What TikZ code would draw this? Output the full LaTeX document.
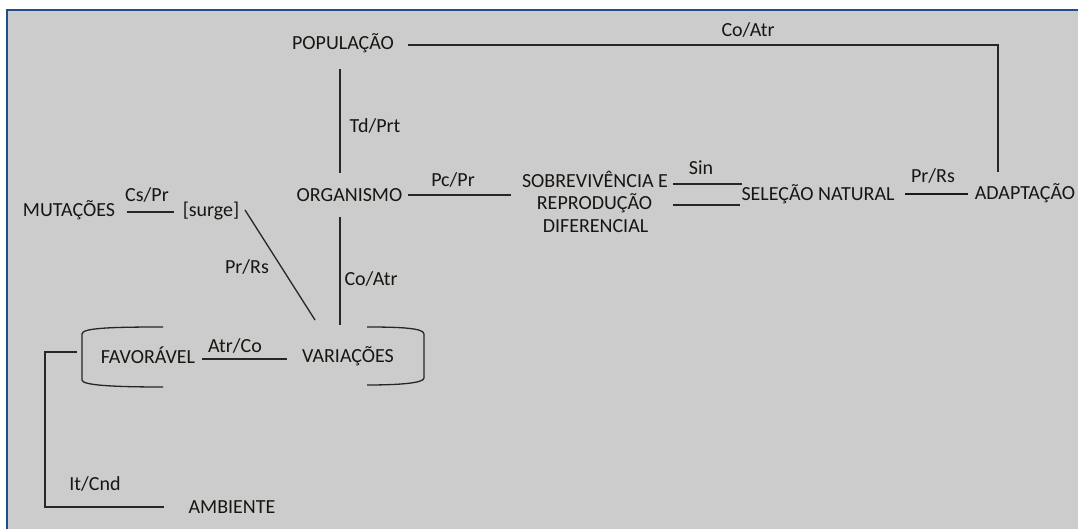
\documentclass[tikz,border=0pt]{standalone}
\usepackage{fontspec}
\setmainfont{Carlito}
\definecolor{bggray}{RGB}{204,204,204}
\definecolor{frameblue}{RGB}{36,76,134}
\definecolor{txt}{RGB}{25,22,18}
\begin{document}
\begin{tikzpicture}[x=1pt,y=-1pt,
  lbl/.style={anchor=base,inner sep=0pt,text=txt,font=\fontsize{20}{24}\selectfont},
  conn/.style={line width=1.3pt,draw=black!85},
  thick conn/.style={line width=2.4pt,draw=black!90}]
\useasboundingbox (0,0) rectangle (1078,529);
\fill[white] (0,0) rectangle (1078,529);
\fill[bggray] (7,10) rectangle (1078,529);
\draw[frameblue,line width=2pt] (7,529) -- (7,10) -- (1078,10);

% nodes
\node[lbl] (pop) at (343,49.5) {POPULAÇÃO};
\node[lbl] (org) at (349.5,202) {ORGANISMO};
\node[lbl] (mut) at (69,217) {MUTAÇÕES};
\node[lbl] (surge) at (211,217) {[surge]};
\node[lbl] (var) at (348,362) {VARIAÇÕES};
\node[lbl] (fav) at (148,363) {FAVORÁVEL};
\node[lbl] (amb) at (232,513) {AMBIENTE};
\node[lbl] (sob1) at (595,188) {SOBREVIVÊNCIA E};
\node[lbl] (sob2) at (594.5,210) {REPRODUÇÃO};
\node[lbl] (sob3) at (595.5,233) {DIFERENCIAL};
\node[lbl] (sel) at (818,201) {SELEÇÃO NATURAL};
\node[lbl] (adp) at (1025,200) {ADAPTAÇÃO};

% edge labels
\node[lbl] (lCoAtrTop) at (748,37) {Co/Atr};
\node[lbl] (lTdPrt) at (375,133) {Td/Prt};
\node[lbl] (lPcPr) at (453,187) {Pc/Pr};
\node[lbl] (lSin) at (701,175) {Sin};
\node[lbl] (lPrRsR) at (933,183) {Pr/Rs};
\node[lbl] (lCsPr) at (147,202) {Cs/Pr};
\node[lbl] (lPrRsL) at (247,273) {Pr/Rs};
\node[lbl] (lCoAtr) at (371,285) {Co/Atr};
\node[lbl] (lAtrCo) at (235,352) {Atr/Co};
\node[lbl] (lItCnd) at (95,490) {It/Cnd};

% connector end points
\coordinate (popR) at (408,45);
\coordinate (adpT) at (998,172);
\coordinate (popB) at (340,69);
\coordinate (orgT) at (340,173);
\coordinate (orgB) at (340,217);
\coordinate (varT) at (340,325);
\coordinate (orgR) at (408,195);
\coordinate (sobL) at (511,195);
\coordinate (sobR1) at (673,184);
\coordinate (selL1) at (742,184);
\coordinate (sobR2) at (673,205);
\coordinate (selL2) at (740,205);
\coordinate (selR) at (905,194);
\coordinate (adpL) at (968,194);
\coordinate (mutR) at (127,212);
\coordinate (surgeL) at (174,212);
\coordinate (surgeR) at (245,210);
\coordinate (varTL) at (315,320);
\coordinate (favR) at (202,359);
\coordinate (varL) at (287,359);
\coordinate (brkL) at (77,352);
\coordinate (ambL) at (164,507);

% connectors
\draw[conn] (popR) -| (adpT);
\draw[conn] (popB) -- (orgT);
\draw[conn] (orgB) -- (varT);
\draw[conn] (orgR) -- (sobL);
\draw[conn] (sobR1) -- (selL1);
\draw[conn] (sobR2) -- (selL2);
\draw[thick conn] (selR) -- (adpL);
\draw[conn] (mutR) -- (surgeL);
\draw[conn] (surgeR) -- (varTL);
\draw[conn] (favR) -- (varL);
\draw[conn] (brkL) -- (45,352) -- (45,507) -- (ambL);

% brackets around FAVORÁVEL / VARIAÇÕES
\draw[conn] (163,327) .. controls (110,327) and (82,328) .. (82,334)
  -- (82,380) .. controls (82,385) and (110,387) .. (163,387);
\draw[conn] (367,327) .. controls (400,327) and (424,328) .. (424,334)
  -- (424,378) .. controls (424,383) and (400,385) .. (367,385);
\end{tikzpicture}
\end{document}
